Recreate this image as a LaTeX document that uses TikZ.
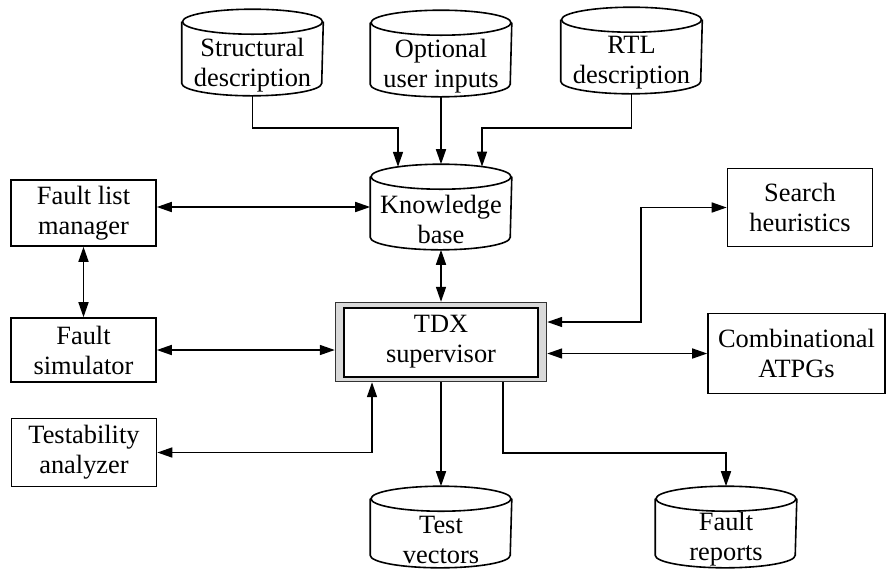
\documentclass[tikz,border=0pt]{standalone}
\usepackage{fontspec}
\setmainfont{Liberation Serif}
\usetikzlibrary{arrows.meta,positioning}

\begin{document}
\begin{tikzpicture}[x=0.5pt,y=-0.5pt,line width=0.8pt,
		font=\fontsize{13.2}{15}\selectfont,
		box/.style={draw,rectangle,align=center,inner sep=0pt,minimum width=72.5pt},
		db/.style={rectangle,align=center,inner sep=0pt,minimum width=70pt,minimum height=30pt,
			append after command={\pgfextra{
				\draw ([yshift=6.25pt]\tikzlastnode.north) ellipse[x radius=35pt,y radius=6.25pt];
				\draw ([yshift=6.25pt]\tikzlastnode.north west) -- ([yshift=6.25pt]\tikzlastnode.south west)
					arc[start angle=180,end angle=360,x radius=35pt,y radius=6.25pt]
					-- ([yshift=6.25pt]\tikzlastnode.north east);}}},
		arr/.style={-{Triangle[length=7.5pt,width=5pt]}},
		biarr/.style={{Triangle[length=7.5pt,width=5pt]}-{Triangle[length=7.5pt,width=5pt]}}]
		\useasboundingbox (0,0) rectangle (887,569);
		% 输入
		\node[db] (sd) at (252.5,65) {Structural\\description};
		\node[db] (oui) at (441,66) {Optional\\user inputs};
		\node[db] (rtl) at (631.5,63) {RTL\\description};
		\node[db,minimum height=29.5pt] (kb) at (441,219.5) {Knowledge\\base};
		% 左侧
		\node[box,minimum height=33pt] (flm) at (83.5,213) {Fault list\\manager};
		\node[box,minimum height=32pt] (fs) at (83.5,350) {Fault\\simulator};
		\node[box,minimum height=34pt] (ta) at (84,452.5) {Testability\\analyzer};
		% 中间
		\node[draw=black!80,line width=0.7pt,fill=black!15,inner sep=0pt,
			minimum width=105.5pt,minimum height=39.5pt] (tdx) at (441,342) {};
		\node[draw,fill=white,align=center,inner sep=0pt,line width=1pt,
			minimum width=97pt,minimum height=34.5pt] (tdxin) at (tdx.center) {TDX\\supervisor};
		% 右侧
		\node[box,minimum height=39pt] (sh) at (800,207.5) {Search\\heuristics};
		\node[box,minimum width=88.5pt,minimum height=40pt] (comb) at (796.5,353.5) {Combinational\\ATPGs};
		% 输出
		\node[db,minimum height=27.5pt] (tv) at (441,539.5) {Test\\vectors};
		\node[db,minimum height=27.5pt] (fr) at (726,539.5) {Fault\\reports};
		% 连线
		\coordinate (sdk) at (398,128);
		\coordinate (rtlk) at (482,128);
		\coordinate (shk) at (641,207.5);
		\coordinate (frk) at (726,453);
		\draw[arr] (sd.south) |- (sdk) -- ([yshift=11.2pt]kb.north -| sdk);
		\draw[arr] (oui.south) -- ([yshift=12.5pt]kb.north);
		\draw[arr] (rtl.south) |- (rtlk) -- ([yshift=11.3pt]kb.north -| rtlk);
		\draw[biarr] (flm.east |- kb.west) ++(0,-12.5) -- ([yshift=6.25pt]kb.west);
		\draw[biarr] (flm.south) -- (fs.north);
		\draw[biarr] (fs.east) -- (fs.east -| tdx.west);
		\draw[biarr] (kb.south) -- (tdx.north);
		\draw[biarr] ([yshift=10pt]tdx.east) -| (shk) -- (sh.west);
		\draw[biarr] (tdx.east |- comb.west) -- (comb.west);
		\draw[biarr] (ta.east) -| ([xshift=-34.5pt]tdx.south);
		\draw[arr] (tdx.south) -- ([yshift=12.5pt]tv.north);
		\draw[arr] ([xshift=31pt]tdx.south) |- (frk) -- ([yshift=12.5pt]fr.north);
	\end{tikzpicture}
\end{document}
